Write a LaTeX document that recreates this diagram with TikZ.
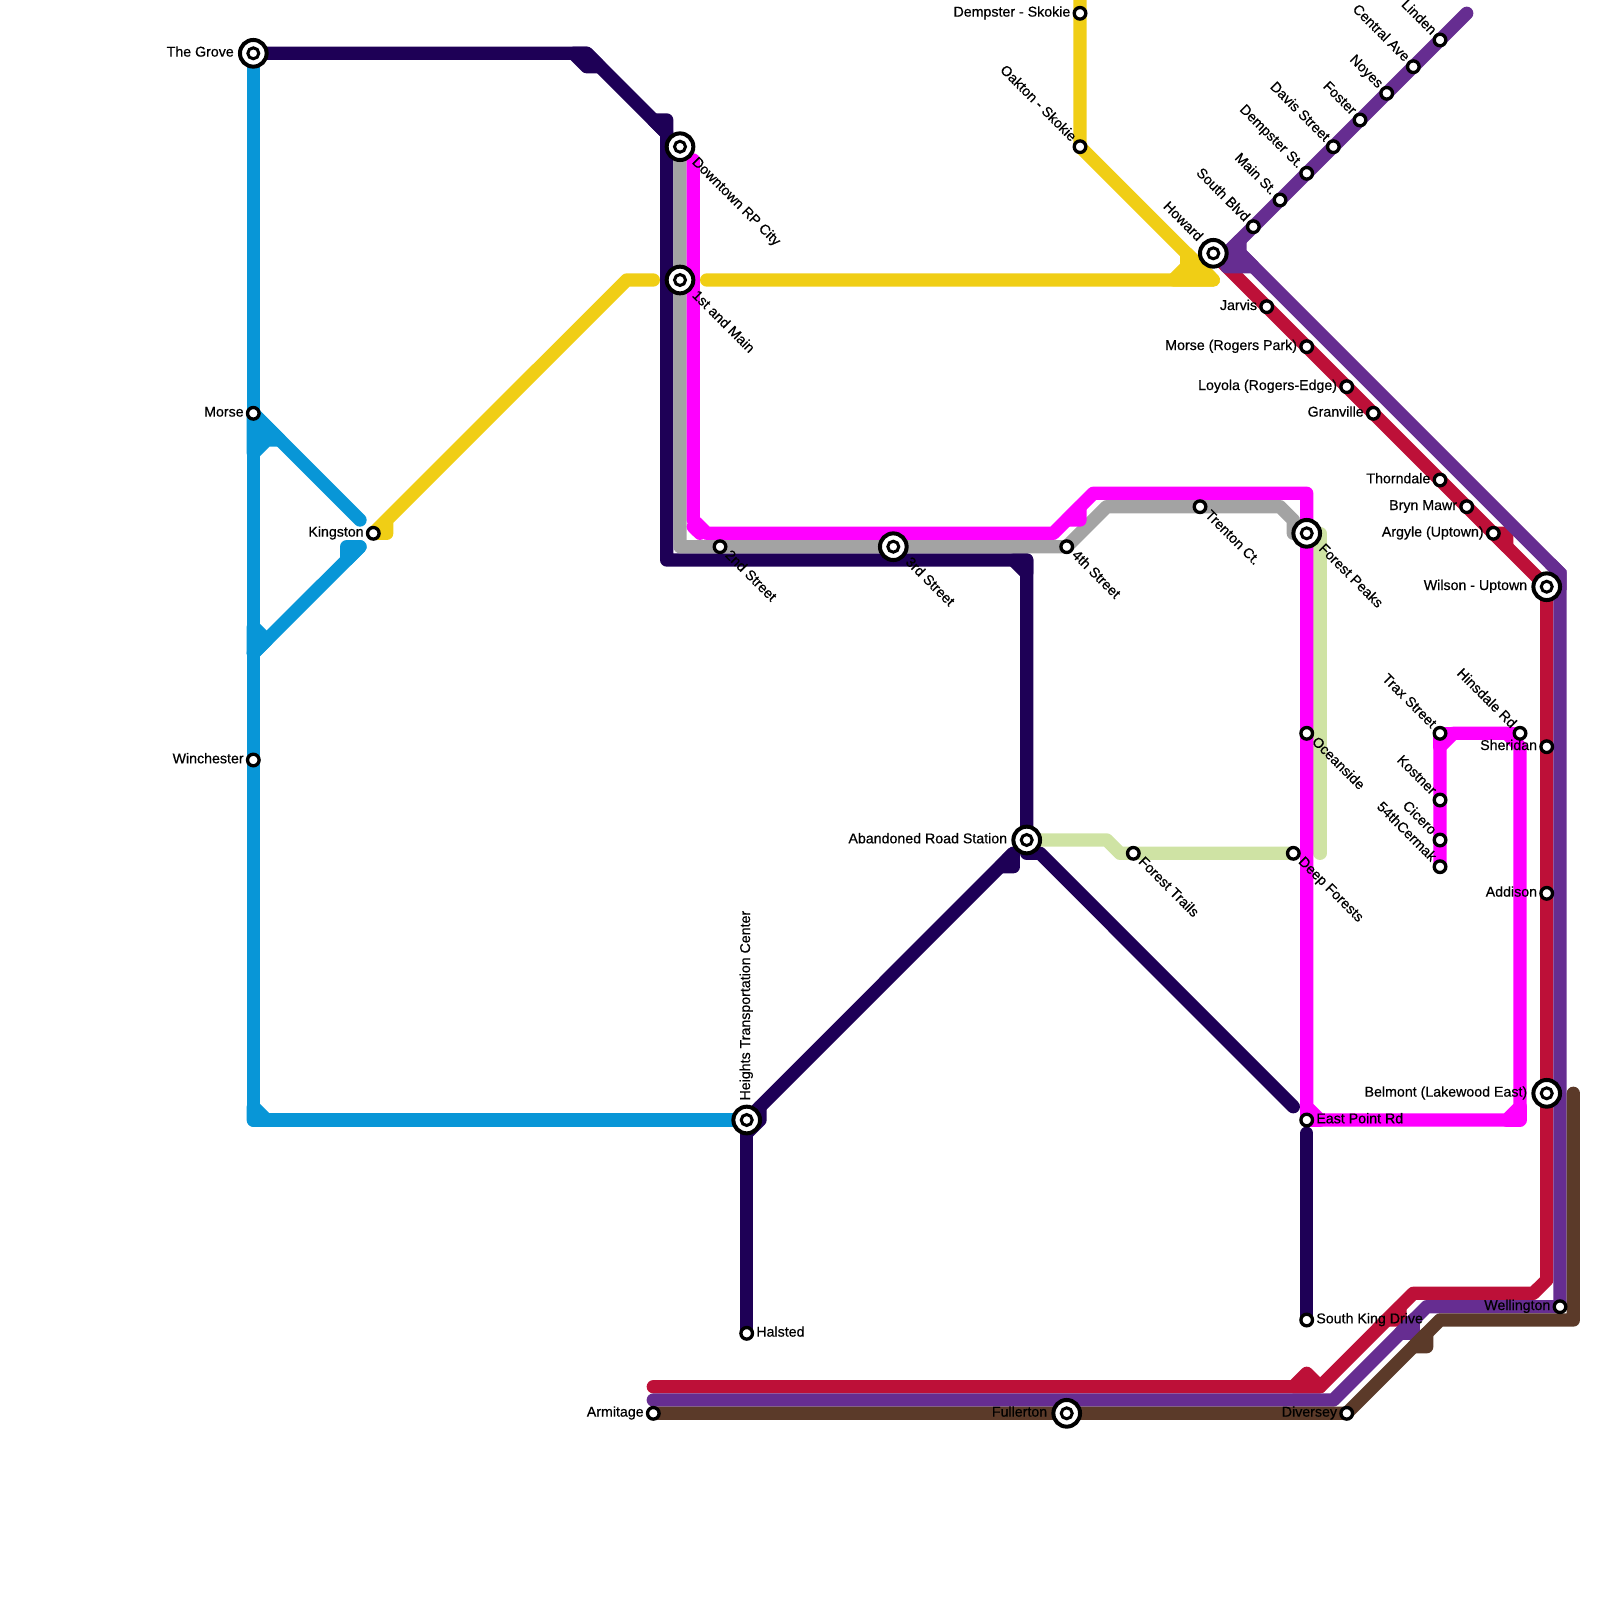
\documentclass[tikz,border=0pt]{standalone}
\usepackage{fontspec}
\usepackage{xcolor}
\usetikzlibrary{backgrounds}
\newfontfamily\stationfont{Liberation Sans}[RawFeature={embolden=0.45}]
\definecolor{Line_Blue}{HTML}{0896D7}
\definecolor{Line_Navy}{HTML}{1E0056}
\definecolor{Line_Yellow}{HTML}{F0CE15}
\definecolor{Line_Gray}{HTML}{A3A3A3}
\definecolor{Line_Magenta}{HTML}{FF00FF}
\definecolor{Line_Green}{HTML}{CFE3A4}
\definecolor{Line_Crimson}{HTML}{BD1038}
\definecolor{Line_Purple}{HTML}{662D91}
\definecolor{Line_Brown}{HTML}{5B3A29}
\tikzset{
    metro/.style={line width=13.33pt, line cap=round, line join=round},
    stop/.style={circle, draw=black, fill=white, line width=3.33pt, minimum size=11.6pt, inner sep=0pt},
    hub/.style={circle, draw=black, fill=white, line width=4pt, minimum size=26.67pt, inner sep=0pt, outer sep=4pt,
        path picture={\draw[line width=3pt, fill=white] (path picture bounding box.center) circle (5.5pt);}},
    name text/.style={font=\stationfont\fontsize{14.2}{16}\selectfont, text=black, inner sep=2pt, text height=9pt, text depth=2.4pt},
    lblleft/.style={name text, anchor=east},
    lblright/.style={name text, anchor=west},
    lblup/.style={name text, anchor=east, rotate=-45},
    lbldown/.style={name text, anchor=west, rotate=-45},
    lblvert/.style={name text, anchor=west, rotate=90},
}

\begin{document}
\begin{tikzpicture}[x=1pt, y=-1pt]
    \useasboundingbox (0,0) rectangle (1600,1600);

    % Stations, west side
    \node[hub] (grove) at (253.3,53.3) {};
    \node[lblleft] (grovelbl) at (grove.west) {The Grove};
    \node[stop] (morse) at (253.3,413.3) {};
    \node[lblleft] (morselbl) at (morse.west) {Morse};
    \node[stop] (winchester) at (253.3,760) {};
    \node[lblleft] (winchesterlbl) at (winchester.west) {Winchester};
    \node[stop] (kingston) at (373.3,533.3) {};
    \node[lblleft] (kingstonlbl) at (kingston.west) {Kingston};
    \node[hub] (heights) at (746.7,1120) {};
    \node[lblvert] (heightslbl) at (heights.north) {Heights Transportation Center};
    \node[stop] (halsted) at (746.7,1333.3) {};
    \node[lblright] (halstedlbl) at (halsted.east) {Halsted};
    \node[stop] (armitage) at (653.3,1413.3) {};
    \node[lblleft] (armitagelbl) at (armitage.west) {Armitage};

    % Stations, downtown
    \node[hub] (downtown) at (680,146.7) {};
    \node[lbldown] (downtownlbl) at (downtown.-45) {Downtown RP City};
    \node[hub] (firstmain) at (680,280) {};
    \node[lbldown] (firstmainlbl) at (firstmain.-45) {1st and Main};
    \node[stop] (second) at (720,546.7) {};
    \node[lbldown] (secondlbl) at (second.-45) {2nd Street};
    \node[hub] (third) at (893.3,546.7) {};
    \node[lbldown] (thirdlbl) at (third.-45) {3rd Street};
    \node[stop] (fourth) at (1066.7,546.7) {};
    \node[lbldown] (fourthlbl) at (fourth.-45) {4th Street};
    \node[stop] (trenton) at (1200,506.7) {};
    \node[lbldown] (trentonlbl) at (trenton.-45) {Trenton Ct.};

    % Stations, forest branch
    \node[hub] (peaks) at (1306.7,533.3) {};
    \node[lbldown] (peakslbl) at (peaks.-45) {Forest Peaks};
    \node[stop] (oceanside) at (1306.7,733.3) {};
    \node[lbldown] (oceansidelbl) at (oceanside.-45) {Oceanside};
    \node[hub] (abandoned) at (1026.7,840) {};
    \node[lblleft] (abandonedlbl) at (abandoned.west) {Abandoned Road Station};
    \node[stop] (trails) at (1133.3,853.3) {};
    \node[lbldown] (trailslbl) at (trails.-45) {Forest Trails};
    \node[stop] (deep) at (1293.3,853.3) {};
    \node[lbldown] (deeplbl) at (deep.-45) {Deep Forests};
    \node[stop] (eastpoint) at (1306.7,1120) {};
    \node[lblright] (eastpointlbl) at (eastpoint.east) {East Point Rd};
    \node[stop] (kingdrive) at (1306.7,1320) {};
    \node[lblright] (kingdrivelbl) at (kingdrive.east) {South King Drive};

    % Stations, magenta loop
    \node[stop] (trax) at (1440,733.3) {};
    \node[lblup] (traxlbl) at (trax.135) {Trax Street};
    \node[stop] (hinsdale) at (1520,733.3) {};
    \node[lblup] (hinsdalelbl) at (hinsdale.135) {Hinsdale Rd};
    \node[stop] (kostner) at (1440,800) {};
    \node[lblup] (kostnerlbl) at (kostner.135) {Kostner};
    \node[stop] (cicero) at (1440,840) {};
    \node[lblup] (cicerolbl) at (cicero.135) {Cicero};
    \node[stop] (cermak) at (1440,866.7) {};
    \node[lblup] (cermaklbl) at (cermak.135) {54thCermak};

    % Stations, skokie and north branch
    \node[stop] (dempsterskokie) at (1080,13.3) {};
    \node[lblleft] (dempsterskokielbl) at (dempsterskokie.west) {Dempster - Skokie};
    \node[stop] (oakton) at (1080,146.7) {};
    \node[lblup] (oaktonlbl) at (oakton.135) {Oakton - Skokie};
    \node[hub] (howard) at (1213.3,253.3) {};
    \node[lblup] (howardlbl) at (howard.135) {Howard};
    \node[stop] (southblvd) at (1253.3,226.7) {};
    \node[lblup] (southblvdlbl) at (southblvd.135) {South Blvd};
    \node[stop] (mainst) at (1280,200) {};
    \node[lblup] (mainstlbl) at (mainst.135) {Main St.};
    \node[stop] (dempsterst) at (1306.7,173.3) {};
    \node[lblup] (dempsterstlbl) at (dempsterst.135) {Dempster St.};
    \node[stop] (davis) at (1333.3,146.7) {};
    \node[lblup] (davislbl) at (davis.135) {Davis Street};
    \node[stop] (foster) at (1360,120) {};
    \node[lblup] (fosterlbl) at (foster.135) {Foster};
    \node[stop] (noyes) at (1386.7,93.3) {};
    \node[lblup] (noyeslbl) at (noyes.135) {Noyes};
    \node[stop] (central) at (1413.3,66.7) {};
    \node[lblup] (centrallbl) at (central.135) {Central Ave};
    \node[stop] (linden) at (1440,40) {};
    \node[lblup] (lindenlbl) at (linden.135) {Linden};

    % Stations, red line south of Howard
    \node[stop] (jarvis) at (1266.7,306.7) {};
    \node[lblleft] (jarvislbl) at (jarvis.west) {Jarvis};
    \node[stop] (morsepark) at (1306.7,346.7) {};
    \node[lblleft] (morseparklbl) at (morsepark.west) {Morse (Rogers Park)};
    \node[stop] (loyola) at (1346.7,386.7) {};
    \node[lblleft] (loyolalbl) at (loyola.west) {Loyola (Rogers-Edge)};
    \node[stop] (granville) at (1373.3,413.3) {};
    \node[lblleft] (granvillelbl) at (granville.west) {Granville};
    \node[stop] (thorndale) at (1440,480) {};
    \node[lblleft] (thorndalelbl) at (thorndale.west) {Thorndale};
    \node[stop] (bryn) at (1466.7,506.7) {};
    \node[lblleft] (brynlbl) at (bryn.west) {Bryn Mawr};
    \node[stop] (argyle) at (1493.3,533.3) {};
    \node[lblleft] (argylelbl) at (argyle.west) {Argyle (Uptown)};
    \node[hub] (wilson) at (1546.7,586.7) {};
    \node[lblleft] (wilsonlbl) at (wilson.west) {Wilson - Uptown};
    \node[stop] (sheridan) at (1546.7,746.7) {};
    \node[lblleft] (sheridanlbl) at (sheridan.west) {Sheridan};
    \node[stop] (addison) at (1546.7,893.3) {};
    \node[lblleft] (addisonlbl) at (addison.west) {Addison};
    \node[hub] (belmont) at (1546.7,1093.3) {};
    \node[lblleft] (belmontlbl) at (belmont.west) {Belmont (Lakewood East)};
    \node[stop] (wellington) at (1560,1306.7) {};
    \node[lblleft] (wellingtonlbl) at (wellington.west) {Wellington};
    \node[stop] (diversey) at (1346.7,1413.3) {};
    \node[lblleft] (diverseylbl) at (diversey.west) {Diversey};
    \node[hub] (fullerton) at (1066.7,1413.3) {};
    \node[lblleft] (fullertonlbl) at (fullerton.west) {Fullerton};

    % Free line ends
    \coordinate (blueupper) at (360,520);
    \coordinate (bluelower) at (360,546.7);
    \coordinate (yellowtop) at (1080,0);
    \coordinate (yellowwest) at (653.3,280);
    \coordinate (yelloweast) at (706.7,280);
    \coordinate (navytail) at (1293.3,1106.7);
    \coordinate (navysouth) at (746.7,1133.3);
    \coordinate (kingstub) at (1306.7,1133.3);
    \coordinate (greentail) at (1320,853.3);
    \coordinate (magentatop) at (693.3,160);
    \coordinate (purpletip) at (1466.7,13.3);
    \coordinate (brownend) at (1573.3,1093.3);

    \begin{scope}[on background layer]
        % Blue line
        \draw[metro, Line_Blue] (grove.center) -- (253.3,1120) -- (heights.center);
        \draw[metro, Line_Blue] (morse.center) -- (blueupper);
        \draw[metro, Line_Blue] (253.3,653.3) -- (bluelower);
        \draw[metro, Line_Blue, fill=Line_Blue] (morse.center) -- (280,440) -- (266.7,440) -- (253.3,453.3) -- cycle;
        \draw[metro, Line_Blue, fill=Line_Blue] (253.3,626.7) -- (266.7,640) -- (253.3,653.3) -- cycle;
        \draw[metro, Line_Blue, fill=Line_Blue] (bluelower) -- (346.7,546.7) -- (346.7,560) -- cycle;
        \draw[metro, Line_Blue, fill=Line_Blue] (253.3,1106.7) -- (266.7,1120) -- (253.3,1120) -- cycle;

        % Navy line
        \draw[metro, Line_Navy] (grove.center) -- (586.7,53.3) -- (666.7,133.3) -- (666.7,560) -- (1026.7,560) -- (abandoned.center);
        \draw[metro, Line_Navy, fill=Line_Navy] (573.3,53.3) -- (586.7,53.3) -- (600,66.7) -- (586.7,66.7) -- cycle;
        \draw[metro, Line_Navy, fill=Line_Navy] (653.3,120) -- (666.7,120) -- (666.7,133.3) -- cycle;
        \draw[metro, Line_Navy, fill=Line_Navy] (1013.3,560) -- (1026.7,560) -- (1026.7,573.3) -- cycle;
        \draw[metro, Line_Navy] (760,1106.7) -- (1013.3,853.3);
        \draw[metro, Line_Navy, fill=Line_Navy] (1013.3,853.3) -- (1013.3,866.7) -- (1000,866.7) -- cycle;
        \draw[metro, Line_Navy] (abandoned.center) -- (1026.7,853.3) -- (1040,853.3) -- (navytail);
        \draw[metro, Line_Navy, fill=Line_Navy] (760,1106.7) -- (760,1120) -- (746.7,1133.3) -- (746.7,1120) -- cycle;
        \draw[metro, Line_Navy] (navysouth) -- (halsted.center);
        \draw[metro, Line_Navy] (kingstub) -- (kingdrive.center);

        % Yellow line
        \draw[metro, Line_Yellow] (yellowtop) -- (oakton.center) -- (1213.3,280) -- (yelloweast);
        \draw[metro, Line_Yellow, fill=Line_Yellow] (1186.7,253.3) -- (1186.7,266.7) -- (1173.3,280) -- (1213.3,280) -- cycle;
        \draw[metro, Line_Yellow] (yellowwest) -- (626.7,280) -- (kingston.center) -- (386.7,533.3) -- (386.7,520);

        % Pale green line
        \draw[metro, Line_Green] (abandoned.center) -- (1106.7,840) -- (1120,853.3) -- (deep.center);
        \draw[metro, Line_Green] (peaks.center) -- (1320,533.3) -- (greentail);

        % Gray line
        \draw[metro, Line_Gray] (downtown.center) -- (680,546.7) -- (fourth.center) -- (1106.7,506.7) -- (1280,506.7) -- (1293.3,520) -- (1293.3,533.3) -- (peaks.center);

        % Magenta line
        \draw[metro, Line_Magenta] (magentatop) -- (693.3,520) -- (706.7,533.3) -- (1053.3,533.3) -- (1093.3,493.3) -- (1306.7,493.3) -- (1306.7,1106.7) -- (1320,1120) -- (1506.7,1120) -- (1520,1106.7) -- (1520,746.7) -- (1506.7,733.3) -- (1453.3,733.3) -- (1440,746.7) -- (cermak.center);
        \draw[metro, Line_Magenta] (693.3,526.7) -- (700,533.3);
        \draw[metro, Line_Magenta] (1306.7,1106.7) -- (1306.7,1120) -- (1320,1120);
        \draw[metro, Line_Magenta] (1506.7,1120) -- (1520,1120) -- (1520,1106.7);
        \draw[metro, Line_Magenta] (1453.3,733.3) -- (1440,733.3) -- (1440,746.7);
        \draw[metro, Line_Magenta] (1506.7,733.3) -- (1520,733.3);
        \draw[metro, Line_Magenta, fill=Line_Magenta] (1066.7,520) -- (1080,520) -- (1080,506.7) -- cycle;

        % Crimson line
        \draw[metro, Line_Crimson] (howard.center) -- (1546.7,586.7) -- (1546.7,1280) -- (1533.3,1293.3) -- (1413.3,1293.3) -- (1320,1386.7) -- (653.3,1386.7);
        \draw[metro, Line_Crimson, fill=Line_Crimson] (argyle.center) -- (1506.7,533.3) -- (1506.7,546.7) -- cycle;
        \draw[metro, Line_Crimson, fill=Line_Crimson] (1400,1306.7) -- (1400,1320) -- (1386.7,1320) -- cycle;
        \draw[metro, Line_Crimson, fill=Line_Crimson] (1293.3,1386.7) -- (1306.7,1373.3) -- (1320,1386.7) -- cycle;

        % Purple line
        \draw[metro, Line_Purple] (purpletip) -- (1226.7,253.3) -- (1240,253.3) -- (1560,573.3) -- (wellington.center) -- (1426.7,1306.7) -- (1333.3,1400) -- (653.3,1400);
        \draw[metro, Line_Purple, line cap=butt, line join=miter] (1550,563.3) -- (1560,573.3) -- (1560,590);
        \draw[metro, Line_Purple, fill=Line_Purple] (1226.7,253.3) -- (1240,240) -- (1240,253.3) -- (1253.3,266.7) -- (1226.7,266.7) -- cycle;
        \draw[metro, Line_Purple, fill=Line_Purple] (1413.3,1320) -- (1413.3,1333.3) -- (1400,1333.3) -- cycle;

        % Brown line
        \draw[metro, Line_Brown] (brownend) -- (1573.3,1320) -- (1440,1320) -- (diversey.center) -- (armitage.center);
        \draw[metro, Line_Brown, fill=Line_Brown] (1426.7,1333.3) -- (1426.7,1346.7) -- (1413.3,1346.7) -- cycle;
    \end{scope}
\end{tikzpicture}
\end{document}
